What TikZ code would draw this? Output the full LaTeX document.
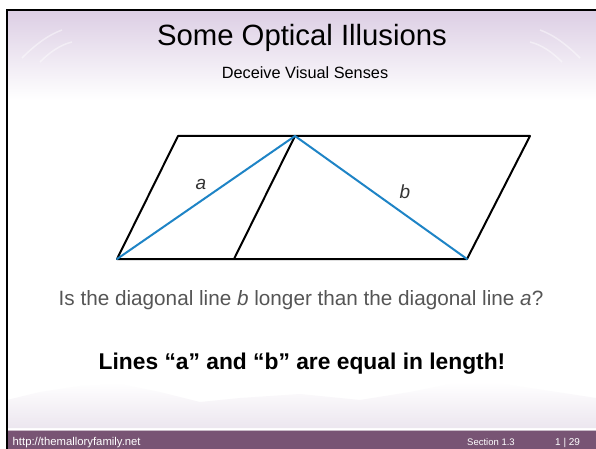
\documentclass[tikz,border=0pt]{standalone}
\usepackage{fontspec}
\setmainfont{Liberation Sans}
\definecolor{lavtop}{RGB}{220,206,228}
\definecolor{lavmid}{RGB}{234,228,238}
\definecolor{mount}{RGB}{236,230,239}
\definecolor{footerc}{RGB}{120,84,116}
\definecolor{diagblue}{RGB}{30,132,198}
\definecolor{qgray}{RGB}{85,85,85}
\tikzset{
  figline/.style={black, line width=2pt, line join=round},
  diagline/.style={diagblue, line width=2pt, line cap=round},
  lbl/.style={font=\fontsize{19}{22}\selectfont\itshape, text=black!80, inner sep=0pt},
  foottext/.style={text=white, anchor=base west, inner sep=0pt},
  ornament/.style={white, opacity=0.45, line width=1.5pt},
}
\begin{document}
\begin{tikzpicture}[x=1pt,y=-1pt]
\useasboundingbox (0,0) rectangle (596,449);
\fill[white] (0,0) rectangle (596,449);
% top band
\shade[top color=lavtop, middle color=lavmid, bottom color=white] (7,10) rectangle (596,100);
% faint ornaments
\draw[ornament] (22,58) .. controls (35,45) and (48,35) .. (62,30);
\draw[ornament] (40,62) .. controls (50,52) and (60,45) .. (72,42);
\draw[ornament] (580,58) .. controls (567,45) and (554,35) .. (540,30);
\draw[ornament] (562,62) .. controls (552,52) and (542,45) .. (530,42);
% bottom mountains
\shade[top color=white, bottom color=mount]
  (7,428) -- (7,400) -- (40,392) -- (80,386) -- (120,384) -- (160,392) -- (200,402) -- (240,398)
  -- (300,394) -- (360,400) -- (410,392) -- (450,384) -- (490,382) -- (530,388) -- (570,394) -- (596,398) -- (596,428) -- cycle;
% footer
\fill[footerc] (7,431) rectangle (596,449);
\draw[footerc!40!white, line width=1pt] (7,430) -- (596,430);
% border
\fill[black] (5.5,9) rectangle (8,449);
\fill[black] (5.5,9) rectangle (596,11);

% titles
\node[font=\fontsize{29.3}{34}\selectfont, anchor=base, inner sep=0pt] (title) at (302,45.7) {Some Optical Illusions};
\node[font=\fontsize{16.3}{19}\selectfont, anchor=base, inner sep=0pt] (subtitle) at (305,79) {Deceive Visual Senses};

% figure
\coordinate (p1) at (117,259);
\coordinate (p2) at (234,259);
\coordinate (p3) at (467,259);
\coordinate (q1) at (178,136);
\coordinate (q2) at (295,136);
\coordinate (q3) at (530,136);
\draw[figline] (p1) -- (p3) -- (q3) -- (q1) -- cycle;
\draw[figline] (p2) -- (q2);
\draw[diagline] (p1) -- (q2) -- (p3);
\node[lbl] (la) at (201,184) {a};
\node[lbl] (lb) at (405,192) {b};

% texts
\node[font=\fontsize{20.7}{24}\selectfont, text=qgray, anchor=base, inner sep=0pt] (question) at (301,305.5)
  {Is the diagonal line \textit{b} longer than the diagonal line \textit{a}?};
\node[font=\fontsize{22.8}{27}\selectfont\bfseries, anchor=base, inner sep=0pt] (answer) at (302,369)
  {Lines “a” and “b” are equal in length!};

% footer texts
\node[foottext, font=\fontsize{11.3}{13}\selectfont] (url) at (12.5,445.5) {http://themalloryfamily.net};
\node[foottext, font=\fontsize{9.5}{11}\selectfont] (sect) at (467,445.3) {Section 1.3};
\node[foottext, font=\fontsize{10}{12}\selectfont] (page) at (555,445.5) {1 | 29};
\end{tikzpicture}
\end{document}
